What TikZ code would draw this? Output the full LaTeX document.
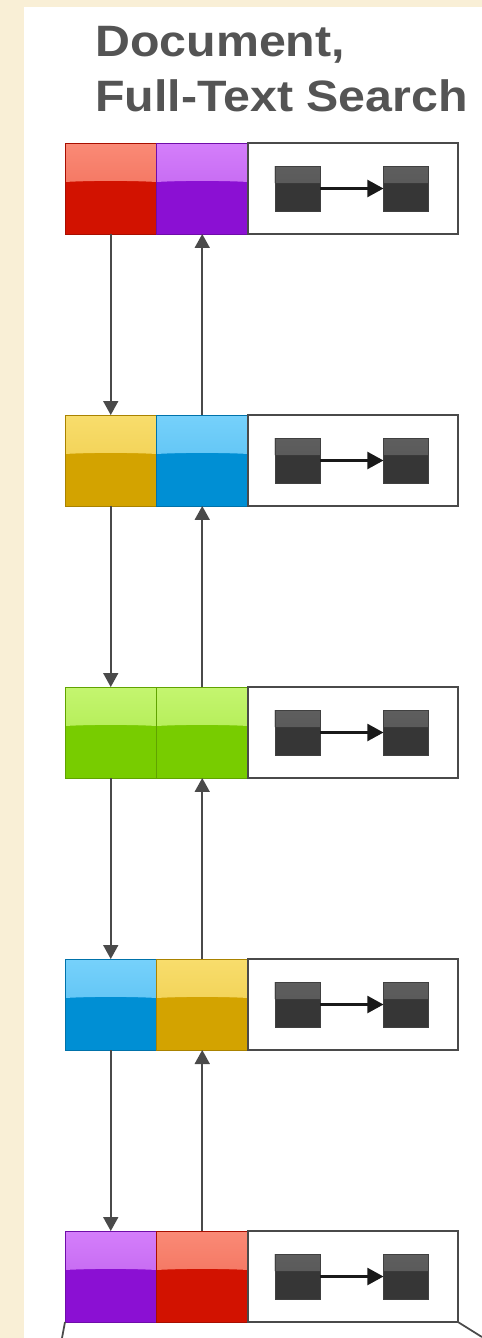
\documentclass[tikz,border=0pt]{standalone}
\usepackage{fontspec}
\newfontfamily\headfont[FakeStretch=1.1]{Liberation Sans}
\usetikzlibrary{positioning,arrows.meta}

\definecolor{paper}{HTML}{F9EFD6}
\definecolor{inkgray}{HTML}{545454}
\definecolor{linegray}{HTML}{4A4A4A}
% glossy cells: hi/lo = upper shine, dk = body
\definecolor{redhi}{HTML}{FA8A76}
\definecolor{redlo}{HTML}{EE634E}
\definecolor{reddk}{HTML}{D21200}
\definecolor{purplehi}{HTML}{D47EFB}
\definecolor{purplelo}{HTML}{B857E8}
\definecolor{purpledk}{HTML}{8B10D3}
\definecolor{goldhi}{HTML}{F8DD6C}
\definecolor{goldlo}{HTML}{ECC843}
\definecolor{golddk}{HTML}{D3A300}
\definecolor{skyhi}{HTML}{76D1FB}
\definecolor{skylo}{HTML}{4DB9EF}
\definecolor{skydk}{HTML}{008FD4}
\definecolor{limehi}{HTML}{C4F56F}
\definecolor{limelo}{HTML}{A6E742}
\definecolor{limedk}{HTML}{78CC00}
\definecolor{chiphi}{HTML}{5E5E5E}
\definecolor{chiplo}{HTML}{555555}
\definecolor{chipdk}{HTML}{363636}

\tikzset{
  gloss/.style n args={4}{path picture={
    \fill[top color=#1, bottom color=#2]
      (path picture bounding box.north west) --
      ([yshift=-#3]path picture bounding box.north west)
      .. controls ([xshift=0.5cm,yshift=-#3+#4]path picture bounding box.north west)
      and ([xshift=-0.5cm,yshift=-#3+#4]path picture bounding box.north east) ..
      ([yshift=-#3]path picture bounding box.north east) --
      (path picture bounding box.north east) -- cycle;}},
  cell/.style={minimum width=1.83cm, minimum height=1.82cm, inner sep=0pt, outer sep=0pt,
    fill=#1dk, draw=#1dk!80!black, line width=0.5pt, gloss={#1hi}{#1lo}{0.78cm}{0.03cm}},
  docbox/.style={minimum width=4.2cm, minimum height=1.82cm, inner sep=0pt, outer sep=0pt,
    fill=white, draw=linegray, line width=1pt},
  chip/.style={minimum width=0.9cm, minimum height=0.9cm, inner sep=0pt, outer sep=0pt,
    fill=chipdk, draw=black!75, line width=0.4pt, gloss={chiphi}{chiplo}{0.34cm}{0cm}},
  hop/.style={-{Triangle[length=0.32cm,width=0.34cm]}, draw=black!90, line width=1.2pt},
  link/.style={-{Triangle[length=0.28cm,width=0.3cm]}, draw=linegray, line width=1pt},
  head/.style={font=\headfont\bfseries\fontsize{25pt}{30pt}\selectfont, text=inkgray,
    inner sep=0pt, anchor=base west}
}

\begin{document}
\begin{tikzpicture}[x=0.02cm, y=-0.02cm]
  \useasboundingbox (0,0) rectangle (482,1338);
  \fill[paper] (0,0) rectangle (482,1338);
  \fill[white] (24,7) rectangle (482,1338);

  \node[head] (t1) at (95,57) {Document,};
  \node[head] (t2) at (95,112) {Full-Text Search};

  % row 1
  \node[cell=red] (a1) at (110.75,188.5) {};
  \node[cell=purple, right=0pt of a1] (b1) {};
  \node[docbox, right=0pt of b1] (d1) {};
  \node[chip] (l1) at ([xshift=-1.11cm]d1.center) {};
  \node[chip] (r1) at ([xshift=1.06cm]d1.center) {};
  \draw[hop] (l1) -- (r1);

  % row 2
  \node[cell=gold] (a2) at (110.75,460.5) {};
  \node[cell=sky, right=0pt of a2] (b2) {};
  \node[docbox, right=0pt of b2] (d2) {};
  \node[chip] (l2) at ([xshift=-1.11cm]d2.center) {};
  \node[chip] (r2) at ([xshift=1.06cm]d2.center) {};
  \draw[hop] (l2) -- (r2);

  % row 3
  \node[cell=lime] (a3) at (110.75,732.5) {};
  \node[cell=lime, right=0pt of a3] (b3) {};
  \node[docbox, right=0pt of b3] (d3) {};
  \node[chip] (l3) at ([xshift=-1.11cm]d3.center) {};
  \node[chip] (r3) at ([xshift=1.06cm]d3.center) {};
  \draw[hop] (l3) -- (r3);

  % row 4
  \node[cell=sky] (a4) at (110.75,1004.5) {};
  \node[cell=gold, right=0pt of a4] (b4) {};
  \node[docbox, right=0pt of b4] (d4) {};
  \node[chip] (l4) at ([xshift=-1.11cm]d4.center) {};
  \node[chip] (r4) at ([xshift=1.06cm]d4.center) {};
  \draw[hop] (l4) -- (r4);

  % row 5
  \node[cell=purple] (a5) at (110.75,1276.5) {};
  \node[cell=red, right=0pt of a5] (b5) {};
  \node[docbox, right=0pt of b5] (d5) {};
  \node[chip] (l5) at ([xshift=-1.11cm]d5.center) {};
  \node[chip] (r5) at ([xshift=1.06cm]d5.center) {};
  \draw[hop] (l5) -- (r5);

  % down the left column, back up the right one
  \draw[link] (a1) -- (a2);
  \draw[link] (a2) -- (a3);
  \draw[link] (a3) -- (a4);
  \draw[link] (a4) -- (a5);
  \draw[link] (b2) -- (b1);
  \draw[link] (b3) -- (b2);
  \draw[link] (b4) -- (b3);
  \draw[link] (b5) -- (b4);

  % edge of the shape below
  \draw[linegray, line width=1pt] (a5.south west) -- ++(-3,16);
  \draw[linegray, line width=1pt] (d5.south east) -- ++(24,15);
\end{tikzpicture}
\end{document}
